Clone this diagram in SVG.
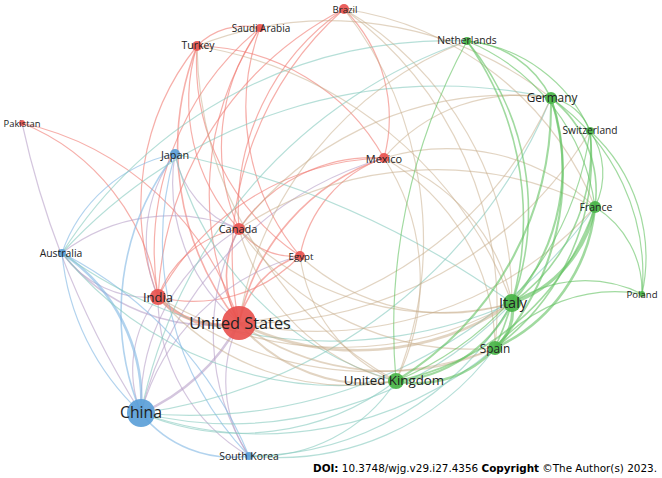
<svg xmlns="http://www.w3.org/2000/svg" width="662" height="478" viewBox="0 0 662 478">
<style>
#edges path{fill:none;stroke-width:1.2;stroke-opacity:0.6}
.r{stroke:#f07a72}.g{stroke:#62c260}.b{stroke:#7fb6e2}
#edges .rg{stroke:#c6aa86;stroke-opacity:0.5}.rb{stroke:#b7a0c8}.bg{stroke:#86c9be}
.w15{stroke-width:1.6!important}.w2{stroke-width:2.1!important}.w25{stroke-width:2.6!important}.w3{stroke-width:3.2!important}
.nr{fill:#e8524f}.ng{fill:#48b446}.nb{fill:#5b9fd8}
.node circle{fill-opacity:0.92}
.node text{font-family:"Open Sans","DejaVu Sans",sans-serif;fill:#222;text-anchor:middle;dominant-baseline:central}
.foot{font-family:"DejaVu Sans","Verdana",sans-serif;font-size:10px;fill:#000}
</style>
<rect width="662" height="478" fill="#fff"/>
<g id="edges">
<!-- red -->
<path class="r w3" d="M239,323 A85,85 0 0,1 158,297"/>
<path class="r w15" d="M239,323 A94,94 0 0,1 239,229"/>
<path class="r w15" d="M239,323 A91,91 0 0,1 300,256"/>
<path class="r w15" d="M239,323 A220,220 0 0,1 384,158"/>
<path class="r" d="M239,323 A331,331 0 0,1 344,9"/>
<path class="r w15" d="M239,323 A280,280 0 0,1 197,46"/>
<path class="r" d="M239,323 A296,296 0 0,1 260,28"/>
<path class="r" d="M22,123 A295,295 0 0,1 239,323"/>
<path class="r" d="M22,123 A221,221 0 0,1 158,297"/>
<path class="r" d="M158,297 A106,106 0 0,1 239,229"/>
<path class="r" d="M158,297 A148,148 0 0,0 300,256"/>
<path class="r" d="M158,297 A265,265 0 0,1 384,158"/>
<path class="r" d="M158,297 A254,254 0 0,1 197,46"/>
<path class="r" d="M158,297 A288,288 0 0,1 260,28"/>
<path class="r" d="M158,297 A343,343 0 0,1 344,9"/>
<path class="r" d="M239,229 A67,67 0 0,0 300,256"/>
<path class="r" d="M239,229 A161,161 0 0,1 384,158"/>
<path class="r" d="M239,229 A188,188 0 0,1 197,46"/>
<path class="r" d="M239,229 A202,202 0 0,1 260,28"/>
<path class="r" d="M239,229 A244,244 0 0,1 344,9"/>
<path class="r" d="M300,256 A234,234 0 0,1 197,46"/>
<path class="r" d="M300,256 A231,231 0 0,1 260,28"/>
<path class="r" d="M384,158 A154,154 0 0,0 344,9"/>
<path class="r" d="M384,158 A218,218 0 0,0 197,46"/>
<path class="r" d="M197,46 A66,66 0 0,1 260,28"/>
<path class="r" d="M300,256 A129,129 0 0,1 384,158"/>
<!-- red-blue -->
<path class="rb" d="M22,123 A900,900 0 0,0 141,413"/>
<path class="rb w25" d="M239,323 A200,200 0 0,1 141,413"/>
<path class="rb" d="M239,323 A181,181 0 0,1 175,154"/>
<path class="rb w15" d="M239,323 A190,190 0 0,1 62,253"/>
<path class="rb" d="M239,323 A133,133 0 0,0 249,456"/>
<path class="rb" d="M158,297 A117,117 0 0,0 141,413"/>
<path class="rb" d="M158,297 A106,106 0 0,1 62,253"/>
<path class="rb" d="M158,297 A144,144 0 0,1 175,154"/>
<path class="rb" d="M239,229 A208,208 0 0,0 141,413"/>
<path class="rb" d="M239,229 A179,179 0 0,0 62,253"/>
<path class="rb" d="M239,229 A99,99 0 0,1 175,154"/>
<path class="rb" d="M300,256 A223,223 0 0,0 141,413"/>
<path class="rb" d="M384,158 A352,352 0 0,0 141,413"/>
<path class="rb" d="M158,297 A183,183 0 0,0 249,456"/>
<path class="rb" d="M239,229 A227,227 0 0,0 249,456"/>
<!-- blue -->
<path class="b w25" d="M141,413 A178,178 0 0,0 62,253"/>
<path class="b" d="M141,413 A250,250 0 0,1 62,253"/>
<path class="b w15" d="M141,413 A261,261 0 0,1 175,154"/>
<path class="b w15" d="M141,413 A116,116 0 0,0 249,456"/>
<path class="b" d="M62,253 A150,150 0 0,1 175,154"/>
<path class="b" d="M62,253 A400,400 0 0,1 249,456"/>
<path class="b" d="M175,154 A311,311 0 0,0 249,456"/>
<!-- blue-green -->
<path class="bg" d="M141,413 A257,257 0 0,0 396,381"/>
<path class="bg" d="M141,413 A360,360 0 0,0 495,348"/>
<path class="bg" d="M141,413 A387,387 0 0,0 512,303"/>
<path class="bg" d="M141,413 A517,517 0 0,0 551,98"/>
<path class="bg" d="M141,413 A499,499 0 0,0 595,207"/>
<path class="bg" d="M141,413 A495,495 0 0,1 467,41"/>
<path class="bg" d="M249,456 A165,165 0 0,0 396,381"/>
<path class="bg" d="M249,456 A269,269 0 0,0 495,348"/>
<path class="bg" d="M249,456 A304,304 0 0,0 512,303"/>
<path class="bg" d="M62,253 A358,358 0 0,0 396,381"/>
<path class="bg" d="M62,253 A453,453 0 0,0 512,303"/>
<path class="bg" d="M62,253 A457,457 0 0,1 467,41"/>
<path class="bg" d="M175,154 A900,900 0 0,1 512,303"/>
<path class="bg" d="M175,154 A317,317 0 0,0 396,381"/>
<path class="bg" d="M62,253 A513,513 0 0,1 551,98"/>
<!-- red-green -->
<path class="rg w25" d="M239,323 A274,274 0 0,0 512,303"/>
<path class="rg w15" d="M239,323 A257,257 0 0,0 495,348"/>
<path class="rg w2" d="M239,323 A167,167 0 0,0 396,381"/>
<path class="rg" d="M239,323 A385,385 0 0,0 551,98"/>
<path class="rg" d="M239,323 A374,374 0 0,0 595,207"/>
<path class="rg" d="M239,323 A363,363 0 0,1 467,41"/>
<path class="rg" d="M239,323 A400,400 0 0,0 590,131"/>
<path class="rg" d="M158,297 A354,354 0 0,0 512,303"/>
<path class="rg" d="M158,297 A252,252 0 0,0 396,381"/>
<path class="rg" d="M158,297 A341,341 0 0,0 495,348"/>
<path class="rg" d="M239,229 A283,283 0 0,0 512,303"/>
<path class="rg" d="M239,229 A218,218 0 0,0 396,381"/>
<path class="rg" d="M239,229 A338,338 0 0,1 551,98"/>
<path class="rg" d="M239,229 A357,357 0 0,1 595,207"/>
<path class="rg" d="M239,229 A282,282 0 0,0 495,348"/>
<path class="rg" d="M300,256 A217,217 0 0,0 512,303"/>
<path class="rg" d="M300,256 A158,158 0 0,0 396,381"/>
<path class="rg" d="M384,158 A220,220 0 0,1 495,348"/>
<path class="rg" d="M384,158 A193,193 0 0,1 512,303"/>
<path class="rg" d="M384,158 A223,223 0 0,1 396,381"/>
<path class="rg" d="M384,158 A177,177 0 0,1 551,98"/>
<path class="rg" d="M384,158 A217,217 0 0,1 595,207"/>
<path class="rg" d="M344,9 A339,339 0 0,1 512,303"/>
<path class="rg" d="M344,9 A371,371 0 0,1 495,348"/>
<path class="rg" d="M344,9 A376,376 0 0,1 396,381"/>
<path class="rg" d="M344,9 A320,320 0 0,1 595,207"/>
<path class="rg" d="M197,46 A358,358 0 0,1 551,98"/>
<path class="rg" d="M197,46 A407,407 0 0,1 512,303"/>
<path class="rg" d="M197,46 A390,390 0 0,0 396,381"/>
<!-- green -->
<path class="g w3" d="M512,303 A48,48 0 0,1 495,348"/>
<path class="g w2" d="M512,303 A140,140 0 0,1 396,381"/>
<path class="g w25" d="M495,348 A104,104 0 0,1 396,381"/>
<path class="g w2" d="M512,303 A209,209 0 0,0 551,98"/>
<path class="g w3" d="M512,303 A127,127 0 0,0 595,207"/>
<path class="g w15" d="M512,303 A266,266 0 0,0 467,41"/>
<path class="g w15" d="M512,303 A189,189 0 0,0 590,131"/>
<path class="g" d="M512,303 A130,130 0 0,1 642,294"/>
<path class="g w2" d="M495,348 A256,256 0 0,0 551,98"/>
<path class="g w25" d="M495,348 A173,173 0 0,0 595,207"/>
<path class="g w15" d="M495,348 A308,308 0 0,0 467,41"/>
<path class="g w15" d="M495,348 A237,237 0 0,0 590,131"/>
<path class="g w2" d="M396,381 A323,323 0 0,0 551,98"/>
<path class="g w15" d="M396,381 A264,264 0 0,0 595,207"/>
<path class="g" d="M396,381 A600,600 0 0,1 467,41"/>
<path class="g" d="M396,381 A316,316 0 0,0 590,131"/>
<path class="g w15" d="M551,98 A118,118 0 0,1 595,207"/>
<path class="g w15" d="M551,98 A102,102 0 0,0 467,41"/>
<path class="g" d="M551,98 A51,51 0 0,1 590,131"/>
<path class="g" d="M595,207 A76,76 0 0,0 590,131"/>
<path class="g" d="M595,207 A210,210 0 0,0 467,41"/>
<path class="g" d="M595,207 A99,99 0 0,1 642,294"/>
<path class="g" d="M551,98 A216,216 0 0,1 642,294"/>
<path class="g" d="M495,348 A157,157 0 0,1 642,294"/>
<path class="g" d="M467,41 A152,152 0 0,1 590,131"/>
<path class="g" d="M590,131 A171,171 0 0,1 642,294"/>
</g>
<g id="node-brazil" class="node"><circle class="nr" cx="344" cy="9" r="5"/><text x="345" y="9" font-size="9.7">Brazil</text></g>
<g id="node-saudi-arabia" class="node"><circle class="nr" cx="260" cy="28" r="4"/><text x="261" y="28" font-size="10">Saudi Arabia</text></g>
<g id="node-turkey" class="node"><circle class="nr" cx="197" cy="46" r="5"/><text x="198" y="45" font-size="10.5">Turkey</text></g>
<g id="node-netherlands" class="node"><circle class="ng" cx="467" cy="41" r="4"/><text x="467" y="40" font-size="10.3">Netherlands</text></g>
<g id="node-germany" class="node"><circle class="ng" cx="551" cy="98" r="6"/><text x="552" y="97" font-size="11.8">Germany</text></g>
<g id="node-switzerland" class="node"><circle class="ng" cx="590" cy="131" r="4"/><text x="590" y="130" font-size="10.2">Switzerland</text></g>
<g id="node-pakistan" class="node"><circle class="nr" cx="22" cy="123" r="3"/><text x="22" y="123" font-size="9.4">Pakistan</text></g>
<g id="node-japan" class="node"><circle class="nb" cx="175" cy="154" r="5"/><text x="175" y="154" font-size="10.8">Japan</text></g>
<g id="node-mexico" class="node"><circle class="nr" cx="384" cy="158" r="5"/><text x="384" y="158" font-size="11">Mexico</text></g>
<g id="node-france" class="node"><circle class="ng" cx="595" cy="207" r="6"/><text x="596" y="207" font-size="10.5">France</text></g>
<g id="node-canada" class="node"><circle class="nr" cx="239" cy="229" r="6"/><text x="238" y="228" font-size="11">Canada</text></g>
<g id="node-egypt" class="node"><circle class="nr" cx="300" cy="256" r="5"/><text x="301" y="256" font-size="9.7">Egypt</text></g>
<g id="node-australia" class="node"><circle class="nb" cx="62" cy="253" r="4"/><text x="61" y="253" font-size="10.4">Australia</text></g>
<g id="node-poland" class="node"><circle class="ng" cx="642" cy="294" r="3"/><text x="642" y="294" font-size="9.6">Poland</text></g>
<g id="node-india" class="node"><circle class="nr" cx="158" cy="297" r="8"/><text x="158" y="297" font-size="13">India</text></g>
<g id="node-italy" class="node"><circle class="ng" cx="512" cy="303" r="9"/><text x="513" y="302" font-size="14.5">Italy</text></g>
<g id="node-united-states" class="node"><circle class="nr" cx="239" cy="323" r="17"/><text x="240" y="323" font-size="16.3">United States</text></g>
<g id="node-spain" class="node"><circle class="ng" cx="495" cy="348" r="7"/><text x="495" y="348" font-size="11.8">Spain</text></g>
<g id="node-united-kingdom" class="node"><circle class="ng" cx="396" cy="381" r="8"/><text x="394" y="380" font-size="13.3">United Kingdom</text></g>
<g id="node-china" class="node"><circle class="nb" cx="141" cy="413" r="14"/><text x="141" y="412" font-size="15.8">China</text></g>
<g id="node-south-korea" class="node"><circle class="nb" cx="249" cy="456" r="4"/><text x="249" y="456" font-size="10.4">South Korea</text></g>
<text class="foot" x="313" y="472" textLength="344" lengthAdjust="spacingAndGlyphs"><tspan font-weight="bold">DOI:</tspan> 10.3748/wjg.v29.i27.4356 <tspan font-weight="bold">Copyright</tspan> ©The Author(s) 2023.</text>
</svg>
